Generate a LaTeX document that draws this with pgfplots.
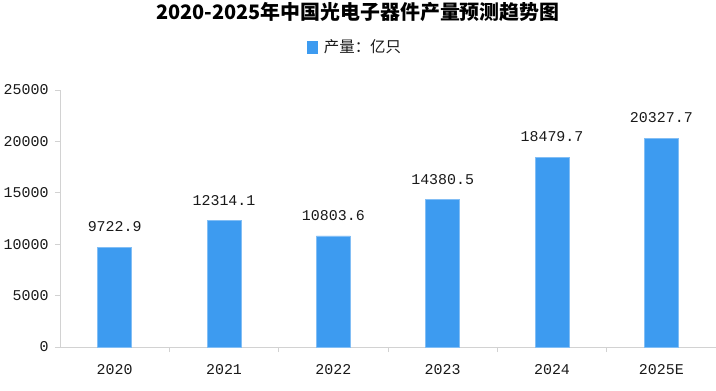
\documentclass[border=0pt]{standalone}
\usepackage{fontspec}
\usepackage{pgfplots}
\pgfplotsset{compat=1.18}
\setmainfont{Liberation Mono}
\newfontfamily\cjk{Noto Sans CJK SC}
\definecolor{barblue}{RGB}{61,155,240}
\definecolor{baredge}{RGB}{130,190,245}
\definecolor{axisgray}{RGB}{210,210,210}
\definecolor{txt}{RGB}{25,25,25}
\begin{document}
\begin{tikzpicture}[x=1bp,y=1bp]
\useasboundingbox (0,0) rectangle (716,390);
\begin{axis}[
  at={(60bp,43bp)}, anchor=south west,
  scale only axis, width=656bp, height=257bp,
  xmin=-0.5, xmax=5.5, ymin=0, ymax=25000,
  axis lines=left, axis line style={-, draw=axisgray, line width=0.8bp},
  tick align=outside,
  xtick={0,1,2,3,4,5},
  xticklabels={2020,2021,2022,2023,2024,2025E},
  major x tick style={draw=none},
  minor xtick={0.5,1.5,2.5,3.5,4.5},
  minor tick length=5bp,
  ytick={0,5000,10000,15000,20000,25000},
  major tick length=5bp,
  tick style={draw=axisgray, line width=0.8bp},
  scaled y ticks=false,
  /pgf/number format/assume math mode=true,
  yticklabel style={/pgf/number format/fixed, /pgf/number format/1000 sep={}, font=\fontsize{15}{16}\selectfont, text=txt, xshift=-3bp},
  xticklabel style={font=\fontsize{15}{16}\selectfont, text=txt, yshift=-9bp},
  ybar, bar width=34bp,
  nodes near coords,
  nodes near coords style={/pgf/number format/fixed, /pgf/number format/fixed zerofill, /pgf/number format/precision=1, /pgf/number format/1000 sep={}},
  every node near coord/.append style={font=\fontsize{15}{16}\selectfont, text=txt, anchor=center, yshift=20bp},
  title={\cjk\bfseries 2020-2025年中国光电子器件产量预测趋势图},
  title style={at={(0.454,1.28)}, anchor=center, font=\fontsize{20}{22}\selectfont, text=black},
  legend style={at={(0.45,1.167)}, anchor=center, draw=none, fill=none, font=\cjk\fontsize{15.5}{17}\selectfont, text=txt},
  legend image code/.code={\fill[barblue] (0bp,-6bp) rectangle (10bp,6bp); \path (14bp,0bp);},
]
\addplot[fill=barblue, draw=baredge, line width=0.6bp] coordinates {
  (0,9722.9) (1,12314.1) (2,10803.6) (3,14380.5) (4,18479.7) (5,20327.7)
};
\addlegendentry{产量：亿只}
\end{axis}
\end{tikzpicture}
\end{document}
